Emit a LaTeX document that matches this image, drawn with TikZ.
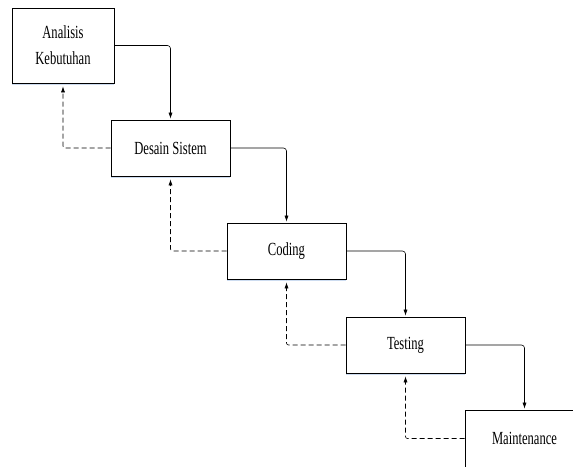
\documentclass[tikz,border=0pt]{standalone}
\usepackage{fontspec}
\setmainfont{Liberation Serif}[FakeStretch=0.68]
\usetikzlibrary{arrows.meta,shadows}
\definecolor{shadowblue}{RGB}{205,220,240}
\tikzset{
  stage/.style={draw=black, line width=0.7pt, fill=white, inner sep=0pt,
    align=center, font=\fontsize{18.5}{26}\selectfont,
    drop shadow={shadow xshift=0pt, shadow yshift=-2pt, fill=shadowblue, opacity=1}},
  flow/.style={draw=black, line width=0.6pt, rounded corners=3pt,
    -{Latex[length=6pt,width=4pt]}, shorten >=1pt},
  feedback/.style={draw=black, line width=0.6pt, dash pattern=on 5pt off 3pt,
    rounded corners=2pt, -{Latex[length=6pt,width=4pt]}, shorten >=3pt}
}
\begin{document}
\begin{tikzpicture}[x=1pt,y=-1pt]
\useasboundingbox (0,0) rectangle (573,466);
\clip (0,0) rectangle (573,466);
\node[stage, minimum width=102pt, minimum height=75pt] (b1) at (63,45.5) {Analisis\\Kebutuhan};
\node[stage, minimum width=119pt, minimum height=56pt] (b2) at (170.5,148) {Desain Sistem};
\node[stage, minimum width=119pt, minimum height=56pt] (b3) at (286.5,251) {Coding};
\node[stage, minimum width=119pt, minimum height=56pt] (b4) at (405.5,345) {Testing};
\node[stage, minimum width=119pt, minimum height=57pt] (b5) at (524.5,438.5) {Maintenance};
\draw[flow] (b1.east) -| (b2.north);
\draw[flow] (b2.east) -| (b3.north);
\draw[flow] (b3.east) -| (b4.north);
\draw[flow] (b4.east) -| (b5.north);
\draw[feedback] (b2.west) -| (b1.south);
\draw[feedback] (b3.west) -| (b2.south);
\draw[feedback] (b4.west) -| (b3.south);
\draw[feedback] (b5.west) -| (b4.south);
\end{tikzpicture}
\end{document}
